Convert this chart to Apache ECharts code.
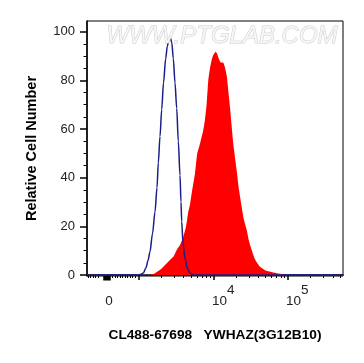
<!DOCTYPE html>
<html>
<head>
<meta charset="utf-8">
<script src="https://cdn.jsdelivr.net/npm/echarts@6/dist/echarts.min.js"></script>
<style>html,body{margin:0;padding:0;background:#fff}#c{width:364px;height:363px}</style>
</head>
<body>
<div id="c"></div>
<script>
// x values are display channels (0..256) of the biexponential FL axis
const isoX = [0, 51, 54, 56.3, 59, 61, 63, 65.5, 68, 70, 71.3, 73, 74.7, 76.5, 78.7, 80.3, 81.8, 83.3, 84.8, 86.3, 88, 89.7, 91.3, 93, 94, 94.7, 96, 98, 100.5, 103, 106, 256];
const isoY = [0, 0, 0.3, 0.8, 3, 6, 9.6, 17, 26, 36, 46, 57, 68, 79, 89, 94, 96.8, 97.6, 95.5, 89, 79, 68.5, 55, 41, 30, 22, 13, 6.8, 2.5, 0.8, 0, 0];

const sampleX = [62, 67, 74.7, 79, 83, 86.3, 89.7, 93, 96.3, 99, 101.3, 103, 104.7, 108, 110.3, 113, 116.3, 118, 119.7, 121.3, 123, 124.7, 126.3, 128.7, 130, 132, 134, 136, 137.5, 139.7, 141.5, 143, 144.5, 146.3, 149.7, 152, 154.7, 157, 159.7, 162, 164.7, 168, 173, 178, 183, 189.7, 196.3, 200];
const sampleY = [0, 0.5, 2.7, 4.5, 6.2, 7.5, 10.3, 12.3, 15.7, 19.9, 26, 29, 33.6, 41.8, 50, 54, 59.6, 64, 70.6, 80, 85, 88.4, 90.4, 91.8, 91, 88.7, 87.3, 87.3, 86, 82, 75, 69, 62, 54, 43, 35, 28, 22.6, 18.5, 14, 10.3, 6.5, 3.4, 2, 1.4, 0.7, 0.3, 0];

const yMajorTicks = [0, 20, 40, 60, 80, 100];
const yMinorTicks = [5, 10, 15, 25, 30, 35, 45, 50, 55, 65, 70, 75, 85, 90, 95];
const xMajorTicks = [51.7, 126.4, 201.1];
const xLinearTicks = [1.3, 3.7, 6.3, 8.7, 11.3, 25.7, 28, 30.7, 33, 35.7, 38, 40.7, 43, 45.7, 48];
const xZeroTicks = [16.5, 17.5, 18.5, 19.5, 20.5, 21.5, 22.5];
const xLogTicks = [74.2, 87.3, 96.7, 103.9, 109.8, 114.8, 119.1, 122.9, 148.9, 162.0, 171.4, 178.6, 184.5, 189.5, 193.8, 197.6, 223.5, 236.6, 246, 253.2];
const xLabelPos = [22, 136.3, 210.3];
const xLabelBase = ['0', '10', '10'];
const xLabelExp = ['', '4', '5'];

const FONT = "'Liberation Sans', Arial, sans-serif";
const chart = echarts.init(document.getElementById('c'), null, {renderer: 'canvas'});

function xAxisBase(extra) {
  return Object.assign({
    type: 'value', min: 0, max: 256, position: 'bottom',
    splitLine: {show: false},
    axisLine: {show: false},
    axisLabel: {show: false},
    axisTick: {show: false}
  }, extra);
}

const option = {
  animation: false,
  grid: {left: 87, top: 21, right: 21, bottom: 87, show: true, borderColor: '#000', borderWidth: 1, backgroundColor: 'transparent'},
  graphic: [{
    type: 'text', left: 106, top: 24, z: 100,
    style: {text: 'WWW.PTGLAB.COM', fontSize: 24, fontStyle: 'italic', fontFamily: FONT,
      fill: '#f6f6f6', stroke: '#cccccc', lineWidth: 1}
  }],
  xAxis: [
    xAxisBase({
      axisLine: {show: true, lineStyle: {color: '#000', width: 1.5}},
      axisTick: {show: true, length: 5, customValues: xMajorTicks, lineStyle: {color: '#000', width: 1.5}},
      axisLabel: {
        show: true, customValues: xLabelPos, margin: 7,
        formatter: function (v) {
          let i = xLabelPos.indexOf(v);
          if (i < 0) return '';
          return '{b|' + xLabelBase[i] + '}' + (xLabelExp[i] ? '{s|' + xLabelExp[i] + '}' : '');
        },
        rich: {
          b: {fontSize: 13.5, fontFamily: FONT, color: '#222', lineHeight: 25, verticalAlign: 'bottom'},
          s: {fontSize: 13.5, fontFamily: FONT, color: '#222', lineHeight: 14, verticalAlign: 'top'}
        }
      },
      name: 'CL488-67698   YWHAZ(3G12B10)', nameLocation: 'middle', nameGap: 52,
      nameTextStyle: {fontSize: 13.7, fontWeight: 'bold', fontFamily: FONT, color: '#000'}
    }),
    xAxisBase({axisTick: {show: true, length: 3, customValues: xLinearTicks.concat(xLogTicks), lineStyle: {color: '#000', width: 1}}}),
    xAxisBase({axisTick: {show: true, length: 4.5, customValues: xZeroTicks, lineStyle: {color: '#000', width: 1.5}}})
  ],
  yAxis: [
    {
      type: 'value', min: -0.4, max: 104.4, position: 'left',
      splitLine: {show: false},
      axisLine: {show: true, lineStyle: {color: '#000', width: 1.5}},
      axisTick: {show: true, length: 7, customValues: yMajorTicks, lineStyle: {color: '#000', width: 1.5}},
      axisLabel: {show: true, customValues: yMajorTicks, margin: 12, fontSize: 13, fontFamily: FONT, color: '#222'},
      name: 'Relative Cell Number', nameLocation: 'middle', nameGap: 48,
      nameTextStyle: {fontSize: 14.5, fontWeight: 'bold', fontFamily: FONT, color: '#000'}
    },
    {
      type: 'value', min: -0.4, max: 104.4, position: 'left',
      splitLine: {show: false}, axisLine: {show: false}, axisLabel: {show: false},
      axisTick: {show: true, length: 3.5, customValues: yMinorTicks, lineStyle: {color: '#000', width: 1}}
    }
  ],
  series: [
    {
      name: 'YWHAZ', type: 'line', xAxisIndex: 0, yAxisIndex: 0,
      data: sampleX.map((x, i) => [x, sampleY[i]]),
      showSymbol: false, symbol: 'none', smooth: 0.2,
      lineStyle: {width: 0, color: '#ff0000'},
      areaStyle: {color: '#ff0000', opacity: 1},
      itemStyle: {color: '#ff0000'}, z: 2
    },
    {
      name: 'Isotype', type: 'line', xAxisIndex: 0, yAxisIndex: 0,
      data: isoX.map((x, i) => [x, isoY[i]]),
      showSymbol: false, symbol: 'none', smooth: 0.3, smoothMonotone: 'x',
      lineStyle: {width: 1.5, color: '#1c1c8a'},
      itemStyle: {color: '#1c1c8a'}, z: 3
    }
  ]
};
chart.setOption(option);
</script>
</body>
</html>
